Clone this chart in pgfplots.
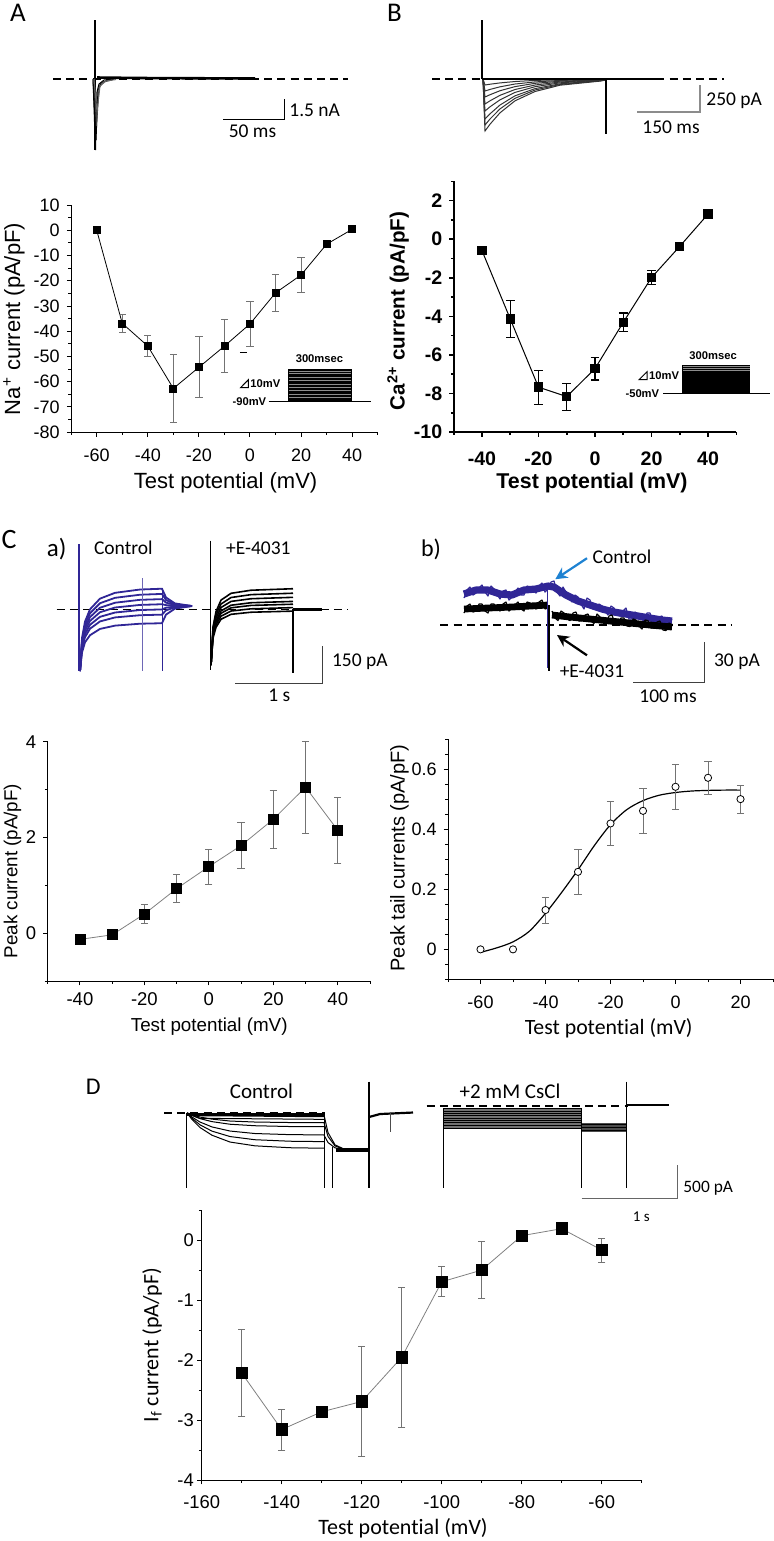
\documentclass[border=0pt]{standalone}
\usepackage{pgfplots}
\pgfplotsset{compat=1.18}
\usepackage{fontspec}
\setmainfont{Liberation Sans}
\newfontfamily\calfont[Ligatures=NoCommon]{Carlito}
\usetikzlibrary{arrows.meta}
\definecolor{trblue}{RGB}{48,38,150}
\definecolor{arrblue}{RGB}{30,130,210}
\newcommand{\fs}[1]{\fontsize{#1}{#1}\selectfont}
\pgfplotsset{
  panel/.style={scale only axis, axis lines*=left, axis line style={-, line width=0.5pt},
    tick align=outside, tick style={black, line width=0.5pt},
    major tick length=2.2pt, minor tick length=1.4pt,
    /pgf/number format/assume math mode=true, clip=false},
  dat/.style={black, line width=0.4pt, mark=square*, mark options={solid, draw=black, fill=black},
    error bars/y dir=both, error bars/y explicit,
    error bars/error bar style={black!55, line width=0.4pt},
    error bars/error mark options={rotate=90, black!55, mark size=1.8pt, line width=0.4pt}},
  dsh/.style={black, line width=0.9pt, dash pattern=on 4pt off 2.6pt},
  tr/.style={line width=0.5pt},
  nz/.style={line width=0.6pt, line join=round},
}
\begin{document}
\begin{tikzpicture}
\useasboundingbox (0,0) rectangle (387pt,-770.5pt);
% ===================== overlay (traces, labels) =====================
\begin{axis}[at={(0pt,0pt)}, anchor=north west, scale only axis, width=387pt, height=770.5pt,
  xmin=0, xmax=774, ymin=0, ymax=1541, y dir=reverse, hide axis, clip=false]
% ---- A trace
\addplot[dsh] coordinates {(53,79) (348,79)};
\addplot[black, line width=1.3pt] coordinates {(97,77.5) (140,78) (255,78.5)};
\addplot[black, line width=0.6pt] coordinates {(95,20) (95,150)};
\addplot[black, tr] coordinates {(93,79) (95.5,150) (97,92) (99,84) (104,80) (112,79)};
\addplot[black, tr] coordinates {(93,79) (96,140) (98,90) (101,83) (108,80)};
\addplot[black!75, tr] coordinates {(94,79) (96.5,126) (99,88) (103,82) (112,80)};
\addplot[black!60, tr] coordinates {(94,79) (97,112) (100,86) (106,81) (116,79.5)};
\addplot[black, tr] coordinates {(223,119) (284,119) (284,99)};
% ---- B trace
\addplot[dsh] coordinates {(432,79) (724,79)};
\addplot[black!80, tr] coordinates {(483,79)(485,131)(490,124.2)(500,112.8)(515,100.8)(535,91.5)(560,85.2)(600,81.1)(606,80)};
\addplot[black!80, tr] coordinates {(483,79)(485,125)(490,119)(500,108.9)(515,98.3)(535,90)(560,84.5)(600,80.8)(606,80)};
\addplot[black!80, tr] coordinates {(483,79)(485,119)(490,113.8)(500,105)(515,95.8)(535,88.6)(560,83.8)(600,80.6)(606,80)};
\addplot[black!80, tr] coordinates {(483,79)(485,111)(490,106.8)(500,99.8)(515,92.4)(535,86.7)(560,82.8)(600,80.3)(606,80)};
\addplot[black!80, tr] coordinates {(483,79)(485,104)(490,100.8)(500,95.3)(515,89.5)(535,85)(560,82)(600,80)(606,79.5)};
\addplot[black!80, tr] coordinates {(483,79)(485,97)(490,94.7)(500,90.7)(515,86.6)(535,83.3)(560,81.2)(600,79.7)(606,79.5)};
\addplot[black!80, tr] coordinates {(483,79)(485,91)(490,89.4)(500,86.8)(515,84)(535,81.9)(560,80.4)(600,79.5)(606,79.3)};
\addplot[black!80, tr] coordinates {(483,79)(485,85)(490,84.2)(500,82.9)(515,81.5)(535,80.4)(560,79.7)(600,79.2)(606,79)};
\addplot[black, line width=1.3pt] coordinates {(482,79) (664,79)};
\addplot[black, line width=0.8pt] coordinates {(482,79) (482,20)};
\addplot[black, line width=1.2pt] coordinates {(606,79) (606,134)};
\addplot[black!45, line width=0.6pt] coordinates {(637,112) (700,112) (700,85)};
% ---- C a) traces
\addplot[dsh] coordinates {(56.7,609.4) (348.3,609.4)};
\addplot[trblue, line width=0.9pt] coordinates {(80,671)(82,638.1)(85,621.6)(90,609.3)(100,598.6)(115,592.8)(140,589.5)(162,588.7)(166,597.4)(175,603.4)(192,606)};
\addplot[trblue, line width=0.9pt] coordinates {(80,671)(82,640.2)(85,624.7)(90,613.2)(100,603.2)(115,597.8)(140,594.7)(162,593.9)(166,600)(175,604.2)(192,606)};
\addplot[trblue, line width=0.9pt] coordinates {(80,671)(82,642.2)(85,627.9)(90,617.1)(100,607.7)(115,602.7)(140,599.8)(162,599.1)(166,602.6)(175,605)(192,606)};
\addplot[trblue, line width=0.9pt] coordinates {(80,671)(82,644.3)(85,630.9)(90,620.9)(100,612.2)(115,607.5)(140,604.9)(162,604.2)(166,605.1)(175,605.7)(192,606)};
\addplot[trblue, line width=0.9pt] coordinates {(80,671)(82,646.4)(85,634)(90,624.8)(100,616.8)(115,612.5)(140,610)(162,609.4)(166,607.7)(175,606.5)(192,606)};
\addplot[trblue, line width=0.9pt] coordinates {(80,671)(82,648.4)(85,637.2)(90,628.7)(100,621.4)(115,617.4)(140,615.2)(162,614.6)(166,610.3)(175,607.3)(192,606)};
\addplot[trblue, line width=0.9pt] coordinates {(80,671)(82,652.5)(85,642.3)(90,635.2)(100,628.9)(115,625.6)(140,623.7)(162,623.2)(166,614.6)(175,608.6)(192,606)};
\addplot[trblue, line width=0.7pt] coordinates {(79,544) (79,671)};
\addplot[trblue!70, line width=0.5pt] coordinates {(142.7,578) (142.7,671)};
\addplot[trblue, line width=0.6pt] coordinates {(162.3,588) (162.3,671)};
\addplot[black, line width=0.8pt] coordinates {(211,665)(213,626.9)(216,611.6)(221,600.1)(231,593.3)(251,590.2)(293,588.7)};
\addplot[black, line width=0.8pt] coordinates {(211,665)(213,629.1)(216,614.7)(221,604)(231,597.5)(251,594.6)(293,593.2)};
\addplot[black, line width=0.8pt] coordinates {(211,665)(213,631.2)(216,617.6)(221,607.5)(231,601.4)(251,598.7)(293,597.3)};
\addplot[black, line width=0.8pt] coordinates {(211,665)(213,633.2)(216,620.5)(221,610.9)(231,605.2)(251,602.7)(293,601.4)};
\addplot[black, line width=0.8pt] coordinates {(211,665)(213,634.6)(216,622.4)(221,613.3)(231,607.8)(251,605.4)(293,604.2)};
\addplot[black, line width=0.8pt] coordinates {(211,665)(213,636.3)(216,624.8)(221,616.2)(231,611)(251,608.8)(293,607.6)};
\addplot[black, line width=0.8pt] coordinates {(211,665)(213,638.1)(216,627.3)(221,619.2)(231,614.3)(251,612.2)(293,611.1)};
\addplot[black, line width=0.7pt] coordinates {(210.7,540.5) (210.7,669.7)};
\addplot[black, line width=0.9pt] coordinates {(293.3,609) (293.3,673)};
\addplot[black, line width=1.3pt] coordinates {(293.3,609.5) (321.7,609.5)};
\addplot[black!75, line width=0.6pt] coordinates {(235,683.3) (322.7,683.3) (322.7,646)};
% ---- C b) traces
\addplot[dsh] coordinates {(440.3,624.8) (732,624.8)};
\addplot[trblue, line width=3.6pt, line join=round] coordinates {(464,594)(476,590)(488,590)(500,594)(512,595)(524,590)(536,589)(548,586)(554,587)(566,595)(578,601)(590,605)(602,609)(614,612)(626,614)(638,616)(650,618)(662,620)(672,621)};
\addplot[trblue, nz] coordinates {(464,598)(467,590)(470,587)(473,595)(476,593)(479,588)(482,585)(485,592)(488,596)(491,586)(494,589)(497,594)(500,599)(503,591)(506,590)(509,600)(512,597)(515,592)(518,588)(521,595)(524,595)(527,586)(530,587)(533,590)(536,593)(539,586)(542,583)(545,592)(548,589)(551,582)(554,581)(557,592)(560,596)(563,587)(566,592)(569,597)(572,602)(575,595)(578,597)(581,604)(584,609)(587,598)(590,600)(593,609)(596,609)(599,604)(602,606)(605,611)(608,615)(611,606)(614,608)(617,615)(620,616)(623,611)(626,608)(629,619)(632,619)(635,612)(638,614)(641,617)(644,622)(647,613)(650,613)(653,622)(656,622)(659,617)(662,616)(665,623)(668,625)(672,619)};
\addplot[black, line width=3.4pt, line join=round] coordinates {(464,609)(488,608)(512,607)(530,606)(548,605)};
\addplot[black, nz] coordinates {(464,613)(467,606)(470,604)(473,612)(476,611)(479,604)(482,604)(485,611)(488,613)(491,604)(494,604)(497,609)(500,611)(503,604)(506,602)(509,611)(512,608)(515,605)(518,602)(521,609)(524,611)(527,602)(530,603)(533,606)(536,609)(539,602)(542,600)(545,609)(548,608)};
\addplot[black, line width=3.4pt, line join=round] coordinates {(552,615)(570,617)(590,619)(610,621)(630,623)(650,625)(672,627)};
\addplot[black, nz] coordinates {(552,611)(555,618)(558,620.5)(561,611)(564,613)(567,619)(570,620.5)(573,613)(576,612)(579,621)(582,620.5)(585,615)(588,614)(591,621)(594,623.5)(597,614)(600,617)(603,621)(606,623.5)(609,616)(612,615)(615,624)(618,624)(621,618)(624,618)(627,626)(630,626.5)(633,619)(636,620)(639,626)(642,629)(645,620)(648,620.5)(651,628)(654,628)(657,622)(660,621)(663,630)(666,630.5)(669,623)(672,625)};
\addplot[trblue, line width=0.7pt] coordinates {(547.5,588) (547.5,668)};
\addplot[black, line width=0.9pt] coordinates {(549,605) (549,670.5)};
\addplot[black!75, line width=0.6pt] coordinates {(633,682.7) (704.3,682.7) (704.3,641.7)};
\draw[arrblue, line width=1.1pt, -{Stealth[length=6pt, width=6pt]}] (axis cs:587,558.2) -- (axis cs:555.3,579.2);
\draw[black, line width=1.1pt, -{Stealth[length=6pt, width=6pt]}] (axis cs:587,655.3) -- (axis cs:557,635);
% ---- D traces
\addplot[dsh] coordinates {(164,1112.7) (325,1112.7)};
\addplot[black, tr] coordinates {(187,1113)(192,1119.4)(200,1127.5)(212,1135.2)(230,1142)(255,1145.8)(290,1147.7)(324,1148.2)};
\addplot[black, tr] coordinates {(187,1113)(192,1118.2)(200,1124.8)(212,1131.1)(230,1136.5)(255,1139.7)(290,1141.2)(324,1141.6)};
\addplot[black, tr] coordinates {(187,1113)(192,1117)(200,1122)(212,1126.9)(230,1131)(255,1133.5)(290,1134.6)(324,1134.9)};
\addplot[black, tr] coordinates {(187,1113)(192,1115.5)(200,1118.6)(212,1121.6)(230,1124.2)(255,1125.7)(290,1126.5)(324,1126.6)};
\addplot[black, tr] coordinates {(187,1113)(192,1114.7)(200,1117)(212,1119.1)(230,1121)(255,1122)(290,1122.5)(324,1122.7)};
\addplot[black, tr] coordinates {(187,1113)(200,1118.3)(324,1119.3)};
\addplot[black, tr] coordinates {(187,1113)(200,1115.7)(324,1116.7)};
\addplot[black, line width=1.5pt] coordinates {(187,1114.3)(324,1114.3)};
\addplot[black, tr] coordinates {(324,1115)(328,1132.5)(335,1144.8)(345,1149.5)};
\addplot[black, tr] coordinates {(324,1122.7)(328,1136.4)(335,1145.9)(345,1149.6)};
\addplot[black, tr] coordinates {(324,1135)(328,1142.5)(335,1147.8)(345,1149.8)};
\addplot[black, line width=1.6pt] coordinates {(336,1150)(369,1150)};
\addplot[black, line width=0.6pt] coordinates {(186.6,1112.7) (186.6,1188.3)};
\addplot[black, line width=0.6pt] coordinates {(324.3,1113) (324.3,1188.3)};
\addplot[black, line width=0.5pt] coordinates {(332.3,1146.7) (332.3,1188.3)};
\addplot[black, line width=0.6pt] coordinates {(368.9,1081.7) (368.9,1188.3)};
\addplot[black, line width=1.1pt] coordinates {(369,1117) (380,1114) (413,1112.5)};
\addplot[black!70, line width=0.4pt] coordinates {(390,1113) (390,1131.7)};
\addplot[dsh] coordinates {(426.6,1106) (627.5,1106)};
\fill[black!55] (axis cs:443.7,1108.3) rectangle (axis cs:581.7,1128.3);
\fill[black!70] (axis cs:581.7,1123.3) rectangle (axis cs:626.3,1131.7);
\pgfplotsinvokeforeach{1108.6,1111,1113,1115.5,1118,1120,1122.5,1125,1128}{
  \draw[black, line width=0.45pt] (axis cs:443.7,#1) -- (axis cs:581.7,#1);}
\pgfplotsinvokeforeach{1124,1127,1130.5}{
  \draw[black, line width=0.5pt] (axis cs:581.7,#1) -- (axis cs:626.3,#1);}
\addplot[black, line width=0.6pt] coordinates {(443.7,1108) (443.7,1188.3)};
\addplot[black, line width=0.6pt] coordinates {(581.7,1108) (581.7,1188.3)};
\addplot[black, line width=0.6pt] coordinates {(626.3,1081.7) (626.3,1188.3)};
\addplot[black, line width=1.2pt] coordinates {(626.3,1105) (669.3,1105)};
\addplot[black!60, line width=0.6pt] coordinates {(581.7,1198.3) (677.3,1198.3) (677.3,1165)};
% ---- texts
\node[font=\calfont\fs{13.5}] at (axis cs:18,13) {A};
\node[font=\calfont\fs{13.5}] at (axis cs:394.5,12.5) {B};
\node[font=\calfont\fs{14}] at (axis cs:9.2,539.7) {C};
\node[font=\calfont\fs{12}] at (axis cs:93.3,1086.7) {D};
\node[font=\calfont\fs{12.5}] at (axis cs:56.7,549) {a)};
\node[font=\calfont\fs{12}] at (axis cs:431,549.6) {b)};
\node[font=\calfont\fs{9.75}, anchor=west, inner sep=0pt] at (axis cs:289,110) {1.5 nA};
\node[font=\calfont\fs{9.75}] at (axis cs:252.5,131.5) {50 ms};
\node[font=\calfont\fs{9.75}, anchor=west, inner sep=0pt] at (axis cs:706,101) {250 pA};
\node[font=\calfont\fs{9.75}] at (axis cs:671,127) {150 ms};
\node[font=\calfont\fs{9.75}] at (axis cs:123.3,548) {Control};
\node[font=\calfont\fs{9.75}] at (axis cs:258.3,548) {+E-4031};
\node[font=\calfont\fs{9.75}, anchor=west, inner sep=0pt] at (axis cs:331.7,661.7) {150 pA};
\node[font=\calfont\fs{9.75}] at (axis cs:279.3,695) {1 s};
\node[font=\calfont\fs{9.75}] at (axis cs:622,557) {Control};
\node[font=\calfont\fs{9.75}] at (axis cs:592,671.7) {+E-4031};
\node[font=\calfont\fs{9.75}, anchor=west, inner sep=0pt] at (axis cs:713.7,661.7) {30 pA};
\node[font=\calfont\fs{9.75}] at (axis cs:668,696) {100 ms};
\node[font=\calfont\fs{10.5}] at (axis cs:261.4,1091.7) {Control};
\node[font=\calfont\fs{10.5}] at (axis cs:510,1091.7) {+2 mM CsCl};
\node[font=\calfont\fs{8.7}, anchor=west, inner sep=0pt] at (axis cs:683,1188.3) {500 pA};
\node[font=\calfont\fs{7.5}] at (axis cs:641.4,1216.7) {1 s};
% axis titles
\node[font=\fs{11}, rotate=90] at (axis cs:14,319) {Na\textsuperscript{+} current (pA/pF)};
\node[font=\fs{11}] at (axis cs:225.6,483) {Test potential (mV)};
\node[font=\bfseries\fs{10.3}, rotate=90] at (axis cs:398,311) {Ca\textsuperscript{2+} current (pA/pF)};
\node[font=\bfseries\fs{10.7}] at (axis cs:592,483) {Test potential (mV)};
\node[font=\fs{9.4}, rotate=90] at (axis cs:12.5,871) {Peak current (pA/pF)};
\node[font=\fs{9.4}] at (axis cs:209.2,1026.7) {Test potential (mV)};
\node[font=\fs{10}, rotate=90] at (axis cs:399.5,858) {Peak tail currents (pA/pF)};
\node[font=\calfont\fs{10.9}] at (axis cs:608.7,1028.3) {Test potential (mV)};
\node[font=\calfont\fs{11}, rotate=90] at (axis cs:152,1345) {I\textsubscript{f} current (pA/pF)};
\node[font=\calfont\fs{11}] at (axis cs:403,1528) {Test potential (mV)};
\end{axis}
% ===================== A =====================
\begin{axis}[panel, at={(35.6pt,-216.05pt)}, anchor=south west, width=153.25pt, height=113.5pt,
  xmin=-70, xmax=50, ymin=-80, ymax=10,
  xtick={-60,-40,...,40}, minor xtick={-70,-50,...,50},
  ytick={-80,-70,...,10}, minor ytick={-75,-65,...,5},
  tick label style={font=\fs{9}}, xticklabel style={yshift=-2.8pt}]
\addplot[dat, mark size=1.75pt] coordinates {
 (-60,0) +- (0,0)
 (-50,-36.9) +- (0,3.5)
 (-40,-45.9) +- (0,4.2)
 (-30,-62.7) +- (0,13.5)
 (-20,-54.3) +- (0,12.1)
 (-10,-45.9) +- (0,10.5)
 (0,-37.1) +- (0,9)
 (10,-24.8) +- (0,7.4)
 (20,-17.7) +- (0,6.8)
 (30,-5.5) +- (0,0)
 (40,0.4) +- (0,0)
};
\draw[black, line width=0.5pt] (axis cs:-4,-48.6) -- (axis cs:-1,-48.6);
\fill[black] (axis cs:14.9,-67.7) rectangle (axis cs:40,-54.9);
\pgfplotsinvokeforeach{-55.8,-56.9,-58.2,-59.6,-61,-62.3,-63.6,-65,-66.3}{
  \draw[black!45, line width=0.35pt] (axis cs:15.2,#1) -- (axis cs:39.7,#1);}
\draw[black, line width=0.5pt] (axis cs:7.3,-67.7) -- (axis cs:47.2,-67.7);
\node[font=\bfseries\fs{5.6}] at (axis cs:27.2,-50.9) {300msec};
\node[font=\bfseries\fs{5.6}, anchor=east, inner sep=0.5pt] at (axis cs:6.9,-68.1) {-90mV};
\draw[black, line width=0.5pt, line join=miter] (axis cs:-3.7,-62.4) -- (axis cs:-0.6,-62.4) -- (axis cs:-0.6,-59.2) -- cycle;
\node[font=\bfseries\fs{5.6}, anchor=west, inner sep=0.3pt] at (axis cs:-0.2,-60.9) {10mV};
\end{axis}
% ===================== B =====================
\begin{axis}[panel, at={(226.85pt,-216.05pt)}, anchor=south west, width=141.3pt, height=125.4pt,
  xmin=-50, xmax=50, ymin=-10, ymax=3,
  axis line style={line width=0.8pt}, tick style={line width=0.8pt},
  xtick={-40,-20,...,40}, minor xtick={-50,-30,...,50},
  ytick={-10,-8,...,2}, minor ytick={-9,-7,...,3},
  tick label style={font=\bfseries\fs{9.8}}, xticklabel style={yshift=-4pt}]
\addplot[dat, mark size=2.1pt, line width=0.5pt,
  error bars/error bar style={black, line width=0.6pt},
  error bars/error mark options={rotate=90, black, mark size=2.2pt, line width=0.6pt}] coordinates {
 (-40,-0.59) +- (0,0.1)
 (-30,-4.13) +- (0,0.95)
 (-20,-7.67) +- (0,0.88)
 (-10,-8.16) +- (0,0.7)
 (0,-6.71) +- (0,0.59)
 (10,-4.31) +- (0,0.48)
 (20,-1.99) +- (0,0.37)
 (30,-0.37) +- (0,0.2)
 (40,1.3) +- (0,0.12)
};
\fill[black] (axis cs:30.9,-7.99) rectangle (axis cs:55,-6.5);
\pgfplotsinvokeforeach{-6.6,-6.7,-6.8}{
  \draw[black!45, line width=0.35pt] (axis cs:31.2,#1) -- (axis cs:54.7,#1);}
\draw[black, line width=0.5pt] (axis cs:24.1,-7.99) -- (axis cs:61.8,-7.99);
\node[font=\bfseries\fs{5.6}] at (axis cs:41.8,-6.02) {300msec};
\node[font=\bfseries\fs{5.6}, anchor=east, inner sep=0.5pt] at (axis cs:23.2,-8.0) {-50mV};
\draw[black, line width=0.5pt, line join=miter] (axis cs:15.6,-7.28) -- (axis cs:18.4,-7.28) -- (axis cs:18.4,-6.87) -- cycle;
\node[font=\bfseries\fs{5.6}, anchor=west, inner sep=0.3pt] at (axis cs:18.8,-7.07) {10mV};
\end{axis}
% ===================== C a =====================
\begin{axis}[panel, at={(23.85pt,-490.5pt)}, anchor=south west, width=161.15pt, height=119.65pt,
  xmin=-50, xmax=50, ymin=-1, ymax=4,
  xtick={-40,-20,...,40}, minor xtick={-50,-30,...,50},
  ytick={0,2,4}, minor ytick={-1,1,3},
  tick label style={font=\fs{9.25}}]
\addplot[dat, black!50, mark size=2.5pt] coordinates {
 (-40,-0.13) +- (0,0.03)
 (-30,-0.035) +- (0,0.08)
 (-20,0.40) +- (0,0.2)
 (-10,0.93) +- (0,0.29)
 (0,1.39) +- (0,0.37)
 (10,1.83) +- (0,0.48)
 (20,2.38) +- (0,0.6)
 (30,3.05) +- (0,0.96)
 (40,2.15) +- (0,0.69)
};
\end{axis}
% ===================== C b =====================
\begin{axis}[panel, at={(224pt,-489.7pt)}, anchor=south west, width=162.5pt, height=120.2pt,
  xmin=-70, xmax=30, ymin=-0.1, ymax=0.7,
  xtick={-60,-40,...,20}, minor xtick={-70,-50,...,30},
  ytick={0,0.2,0.4,0.6}, minor ytick={-0.1,-0.05,0.05,0.1,0.15,0.25,0.3,0.35,0.45,0.5,0.55,0.65,0.7},
  tick label style={font=\fs{9}}, xticklabel style={yshift=-2.3pt}]
\addplot[black, line width=0.6pt, smooth] coordinates {
 (-60,-0.01) (-55,0.005) (-50,0.025) (-45,0.06) (-40,0.12) (-35,0.19) (-30,0.265) (-25,0.345)
 (-20,0.415) (-15,0.465) (-10,0.495) (-5,0.513) (0,0.522) (5,0.527) (10,0.529) (15,0.53) (20,0.53)};
\addplot[dat, only marks, mark=*, mark size=1.8pt, mark options={solid, draw=black, fill=white, line width=0.4pt}] coordinates {
 (-60,0) +- (0,0)
 (-50,0) +- (0,0)
 (-40,0.131) +- (0,0.043)
 (-30,0.258) +- (0,0.076)
 (-20,0.419) +- (0,0.072)
 (-10,0.461) +- (0,0.076)
 (0,0.541) +- (0,0.075)
 (10,0.571) +- (0,0.054)
 (20,0.5) +- (0,0.047)
};
\end{axis}
% ===================== D =====================
\begin{axis}[panel, at={(100.85pt,-740pt)}, anchor=south west, width=220pt, height=135pt,
  xmin=-160, xmax=-50, ymin=-4, ymax=0.5,
  xtick={-160,-140,...,-60}, minor xtick={-150,-130,...,-50},
  ytick={-4,-3,...,0}, minor ytick={-3.5,-2.5,...,0.5},
  tick label style={font=\fs{9.2}}, xticklabel style={yshift=-2.3pt}, yticklabel style={xshift=1.8pt}]
\addplot[dat, black!50, mark size=2.9pt] coordinates {
 (-150,-2.217) +- (0,0.72)
 (-140,-3.159) +- (0,0.34)
 (-130,-2.863) +- (0,0.02)
 (-120,-2.691) +- (0,0.92)
 (-110,-1.955) +- (0,1.17)
 (-100,-0.696) +- (0,0.25)
 (-90,-0.501) +- (0,0.47)
 (-80,0.072) +- (0,0)
 (-70,0.189) +- (0,0)
 (-60,-0.167) +- (0,0.2)
};
\end{axis}
\end{tikzpicture}
\end{document}
